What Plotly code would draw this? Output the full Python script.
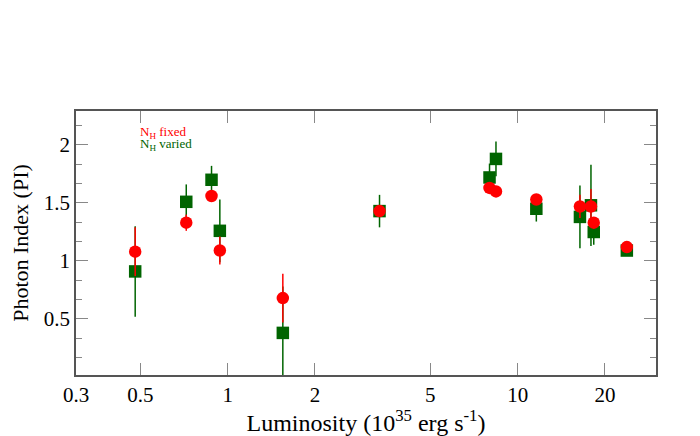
import math
import plotly.graph_objects as go

# N_H fixed (red circles)
lum_fixed = [0.48, 0.72, 0.88, 0.94, 1.55, 3.34, 8.0, 8.42, 11.6, 16.4, 17.9, 18.3, 23.8]
pi_fixed = [1.08, 1.33, 1.56, 1.09, 0.68, 1.43, 1.63, 1.60, 1.53, 1.47, 1.47, 1.33, 1.12]
err_fixed = [0.21, 0.07, 0.05, 0.12, 0.21, 0.05, 0.03, 0.04, 0.03, 0.10, 0.15, 0.05, 0.02]

# N_H varied (green squares)
lum_varied = [0.48, 0.72, 0.88, 0.94, 1.55, 3.34, 8.0, 8.42, 11.6, 16.4, 17.9, 18.3, 23.8]
pi_varied = [0.91, 1.51, 1.70, 1.26, 0.38, 1.43, 1.72, 1.88, 1.45, 1.38, 1.48, 1.25, 1.09]
err_varied = [0.39, 0.15, 0.12, 0.27, 0.40, 0.14, 0.12, 0.15, 0.11, 0.27, 0.35, 0.11, 0.02]

x_ticks = [0.3, 0.5, 1, 2, 5, 10, 20]
x_labels = ["0.3", "0.5", "1", "2", "5", "10", "20"]
y_ticks = [0.5, 1, 1.5, 2]

RED = "#ff0000"
GREEN = "#006400"
FONT = "Liberation Serif"

fig = go.Figure()

fig.add_trace(go.Scatter(
    x=lum_varied, y=pi_varied, mode="markers",
    error_y=dict(type="data", array=err_varied, color=GREEN, thickness=1.5, width=0),
    marker=dict(symbol="square", size=12.5, color=GREEN),
    showlegend=False,
))
fig.add_trace(go.Scatter(
    x=lum_fixed, y=pi_fixed, mode="markers",
    error_y=dict(type="data", array=err_fixed, color=RED, thickness=1.5, width=0),
    marker=dict(symbol="circle", size=12.5, color=RED),
    showlegend=False,
))

# legend-like labels (annotation x on a log axis is given in log10 units)
fig.add_annotation(x=math.log10(0.49), y=2.11, xref="x", yref="y", xanchor="left", yanchor="middle",
                   text="N<sub>H</sub> fixed", showarrow=False,
                   font=dict(family=FONT, size=13, color=RED))
fig.add_annotation(x=math.log10(0.49), y=2.005, xref="x", yref="y", xanchor="left", yanchor="middle",
                   text="N<sub>H</sub> varied", showarrow=False,
                   font=dict(family=FONT, size=13, color=GREEN))

fig.update_xaxes(
    type="log", range=[math.log10(0.3), math.log10(30)], automargin=False,
    tickvals=x_ticks, ticktext=x_labels,
    ticks="inside", ticklen=12, tickcolor="#888888", tickwidth=1,
    showline=True, linecolor="#555555", linewidth=1.5, mirror="ticks",
    showgrid=False, zeroline=False,
    tickfont=dict(family=FONT, size=21, color="black"),
    title=dict(text="Luminosity (10<sup>35</sup> erg s<sup>-1</sup>)",
               font=dict(family=FONT, size=24, color="black"), standoff=0),
)
fig.update_yaxes(
    range=[0.017, 2.293], automargin=False,
    tickvals=y_ticks, ticktext=["0.5", "1", "1.5", "2"],
    ticks="inside", ticklen=12, tickcolor="#888888", tickwidth=1,
    minor=dict(ticks="inside", ticklen=6, tickcolor="#888888", dtick=1/6, tick0=0.5),
    showline=True, linecolor="#555555", linewidth=1.5, mirror="ticks",
    showgrid=False, zeroline=False,
    tickfont=dict(family=FONT, size=21, color="black"),
    title=dict(text="Photon Index (PI)", font=dict(family=FONT, size=22, color="black"), standoff=10),
)

# page body has an 8px margin, so the figure is a bit smaller than the window
fig.update_layout(
    width=692, height=428,
    margin=dict(l=68, r=44, t=103, b=61),
    paper_bgcolor="white", plot_bgcolor="white",
)

fig.write_html("out.html")
